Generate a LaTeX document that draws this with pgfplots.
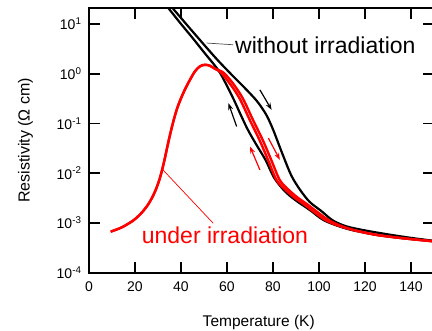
\documentclass[border=0pt]{standalone}
\usepackage{fontspec}
\setmainfont{Liberation Sans}
\usepackage{pgfplots}
\pgfplotsset{compat=1.18}
\usetikzlibrary{arrows.meta}
\definecolor{rred}{RGB}{255,0,0}

\begin{document}
\begin{tikzpicture}
\begin{axis}[
  scale only axis, width=345pt, height=264.7pt,
  xmin=0, xmax=150, ymode=log, ymin=1e-4, ymax=20.9,
  axis line style={line width=1.8pt},
  tick align=inside, major tick length=11pt,
  tick style={line width=1.8pt, black},
  xtick={0,20,...,140}, xticklabels={0,20,40,60,80,100,120,140},
  ytick={1e-4,1e-3,1e-2,1e-1,1,10},
  yticklabels={10\textsuperscript{-4},10\textsuperscript{-3},10\textsuperscript{-2},10\textsuperscript{-1},10\textsuperscript{0},10\textsuperscript{1}},
  yminorticks=false, xminorticks=false,
  xtick pos=both, ytick pos=both, xticklabel pos=lower, yticklabel pos=left,
  tick label style={font=\fontsize{14}{16}\selectfont},
  xticklabel style={yshift=-5pt},
  yticklabel style={xshift=-4pt},
  xlabel={Temperature (K)}, ylabel={Resistivity (Ω cm)},
  xlabel style={font=\fontsize{15.5}{18}\selectfont, at={(axis description cs:0.492,-0.204)}, anchor=base},
  ylabel style={font=\fontsize{16}{18}\selectfont, at={(axis description cs:-0.184,0.5)}, anchor=center},
]
% without irradiation: outer branch
\addplot[black, line width=2.2pt, smooth] coordinates {
(34,26.9) (36.1,21.38) (45,7.079) (55,2.089) (62,0.955) (68,0.5012) (73,0.2818)
(77,0.1514) (80,0.07586) (84,0.02512) (88,8.913e-3) (92,4.467e-3) (96,2.630e-3)
(101,1.738e-3) (106,1.122e-3) (112,8.511e-4) (120,7.079e-4) (130,5.888e-4)
(140,5.012e-4) (150,4.365e-4)};
% without irradiation: inner branch
\addplot[black, line width=2.2pt, smooth] coordinates {
(33,25.12) (34.3,21.38) (40,10) (45,5.248) (50,2.692) (56.1,1.197) (59.5,0.631)
(63,0.2985) (66,0.1479) (69.1,0.07413) (72.8,0.03715) (76.7,0.01862) (80.6,7.943e-3)
(85.3,4.266e-3) (90,2.818e-3) (96,1.820e-3) (101.5,1.175e-3) (107,9.12e-4)
(114,7.244e-4) (125,5.754e-4) (137,4.898e-4) (150,4.266e-4)};
% under irradiation: branch A
\addplot[rred, line width=2.4pt, smooth] coordinates {
(9.43,6.68e-4) (14.35,8.19e-4) (19.26,1.122e-3) (22.61,1.552e-3) (25.43,2.249e-3)
(27.61,3.334e-3) (29.35,5.058e-3) (30.65,7.499e-3) (31.74,1.137e-2) (32.83,1.853e-2)
(33.91,3.155e-2) (35.22,5.902e-2) (36.74,0.1127) (38.26,0.1968) (40.0,0.3199)
(41.96,0.5082) (43.91,0.7539) (46.09,1.117) (48.26,1.409) (50.43,1.510) (52.6,1.442)
(54.78,1.256) (57.2,1.072) (59.9,0.7586) (62.8,0.5012) (65.8,0.2985) (69.9,0.1175)
(74.1,0.04677) (77.8,0.01862) (81.5,7.328e-3) (85.3,4.677e-3) (89.3,3.236e-3)
(93.3,2.399e-3) (97.3,1.738e-3) (102.3,1.175e-3) (107.5,9.12e-4) (114.8,7.244e-4)
(125,5.754e-4) (137,4.898e-4) (150,4.266e-4)};
% under irradiation: branch B
\addplot[rred, line width=2.4pt, smooth] coordinates {
(9.43,6.68e-4) (14.35,8.19e-4) (19.26,1.122e-3) (22.61,1.552e-3) (25.43,2.249e-3)
(27.61,3.334e-3) (29.35,5.058e-3) (30.65,7.499e-3) (31.74,1.137e-2) (32.83,1.853e-2)
(33.91,3.155e-2) (35.22,5.902e-2) (36.74,0.1127) (38.26,0.1968) (40.0,0.3199)
(41.96,0.5082) (43.91,0.7539) (46.09,1.117) (48.26,1.409) (50.43,1.510) (52.6,1.442)
(54.78,1.256) (58.2,1.072) (61.3,0.7586) (64.2,0.5012) (67.2,0.2985) (71.3,0.1175)
(75.5,0.04677) (79.2,0.01862) (82.9,7.328e-3) (86.7,4.677e-3) (90.7,3.236e-3)
(94.7,2.399e-3) (98.7,1.738e-3) (103.7,1.175e-3) (108.5,9.12e-4) (114.8,7.244e-4)
(125,5.754e-4) (137,4.898e-4) (150,4.266e-4)};
% arrows
\draw[black, line width=1.2pt, -{Stealth[length=7pt,width=5pt]}] (axis cs:74.3,0.474) -- (axis cs:79.4,0.1875);
\draw[black, line width=1.2pt, -{Stealth[length=7pt,width=5pt]}] (axis cs:64.2,0.0867) -- (axis cs:60.6,0.256);
\draw[rred, line width=1.2pt, -{Stealth[length=7pt,width=5pt]}] (axis cs:74.3,0.01164) -- (axis cs:70,0.0343);
\draw[rred, line width=1.2pt, -{Stealth[length=7pt,width=5pt]}] (axis cs:78,0.0506) -- (axis cs:83,0.01853);
% leader lines and labels
\draw[black!70, line width=0.7pt] (axis cs:51.1,4.13) -- (axis cs:62.7,3.815);
\draw[rred, line width=0.7pt] (axis cs:31.9,1.2e-2) -- (axis cs:54.0,9.86e-4);
\node[anchor=base west, inner sep=0pt, font=\fontsize{23}{26}\selectfont] at (axis cs:63.5,2.597) {without irradiation};
\node[anchor=base west, inner sep=0pt, text=rred, font=\fontsize{23}{26}\selectfont] at (axis cs:22.9,3.9e-4) {under irradiation};
\end{axis}
\pgfresetboundingbox
\path[use as bounding box] (-89pt,-58.3pt) rectangle (343pt,272.7pt);
\end{tikzpicture}
\end{document}
